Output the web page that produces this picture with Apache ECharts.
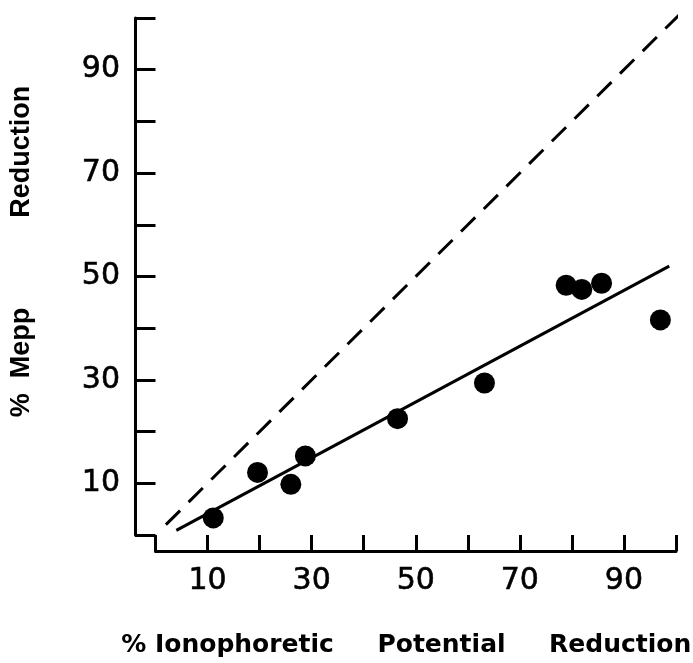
<!DOCTYPE html>
<html>
<head>
<meta charset="utf-8">
<script src="https://cdn.jsdelivr.net/npm/echarts@6/dist/echarts.min.js"></script>
<style>
html,body{margin:0;padding:0;background:#fff;}
#chart{width:693px;height:663px;}
</style>
</head>
<body>
<div id="chart"></div>
<script>
// ---- data ----
const pointX = [11.1, 19.6, 26.0, 28.8, 46.5, 63.2, 78.9, 81.9, 85.7, 97.0];
const pointY = [3.3, 12.1, 9.8, 15.3, 22.5, 29.4, 48.3, 47.5, 48.7, 41.6];
const fitX = [4.0, 98.7];
const fitY = [0.9, 52.0];
const identityX = [2.0, 101.5];
const identityY = [2.0, 101.5];
const xTickLabels = [10, 30, 50, 70, 90];
const yTickLabels = [10, 30, 50, 70, 90];
const xTitle = '% Ionophoretic     Potential     Reduction';
const yTitle = '%  Mepp            Reduction';

const zip = (a, b) => a.map((v, i) => [v, b[i]]);

const chart = echarts.init(document.getElementById('chart'), null, {renderer: 'canvas'});
const labelFont = {fontFamily: 'DejaVu Sans', fontSize: 30, color: '#000', textBorderColor: '#000', textBorderWidth: 0.6};

chart.setOption({
  animation: false,
  backgroundColor: '#fff',
  grid: {left: 150.5, top: 18, right: 17, bottom: 126, containLabel: false},
  xAxis: {
    type: 'value', min: 0, max: 100, interval: 10,
    offset: 16,
    name: xTitle, nameLocation: 'middle', nameGap: 82,
    nameTextStyle: {fontFamily: 'DejaVu Sans', fontWeight: 'bold', fontSize: 25, color: '#000', padding: [0, 19, 0, 0]},
    axisLine: {onZero: false, lineStyle: {color: '#000', width: 3}},
    axisTick: {inside: true, length: 16, lineStyle: {color: '#000', width: 3}},
    axisLabel: Object.assign({margin: 15, formatter: v => xTickLabels.includes(v) ? String(v) : ''}, labelFont),
    splitLine: {show: false}
  },
  yAxis: {
    type: 'value', min: 0, max: 100, interval: 10,
    offset: 20.5,
    name: yTitle, nameLocation: 'middle', nameGap: 100, nameRotate: 90,
    nameTextStyle: {fontFamily: 'Liberation Sans', fontWeight: 'bold', fontSize: 27, color: '#000', padding: [0, 0, 0, 50]},
    axisLine: {onZero: false, lineStyle: {color: '#000', width: 3}},
    axisTick: {inside: true, length: 20.5, lineStyle: {color: '#000', width: 3}},
    axisLabel: Object.assign({margin: 15, formatter: v => yTickLabels.includes(v) ? String(v) : ''}, labelFont),
    splitLine: {show: false}
  },
  series: [
    {
      type: 'line', data: zip(identityX, identityY), symbol: 'none', clip: false,
      lineStyle: {color: '#000', width: 3, type: [20, 12]}, z: 2
    },
    {
      type: 'line', data: zip(fitX, fitY), symbol: 'none', clip: false,
      lineStyle: {color: '#000', width: 3}, z: 3
    },
    {
      type: 'scatter', data: zip(pointX, pointY), symbol: 'circle', symbolSize: 21,
      itemStyle: {color: '#000', opacity: 1}, z: 4
    }
  ]
});
</script>
</body>
</html>
